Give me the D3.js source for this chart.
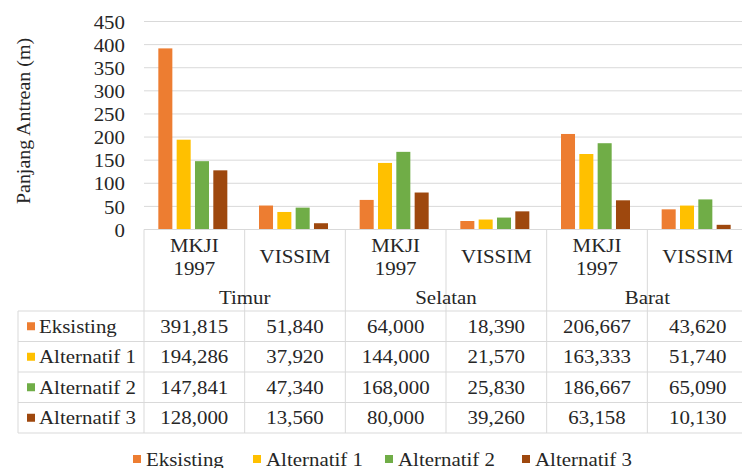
<!DOCTYPE html>
<html>
<head>
<meta charset="utf-8">
<script src="https://cdn.jsdelivr.net/npm/d3@7/dist/d3.min.js"></script>
<style>
  html, body { margin: 0; padding: 0; background: #fff; }
  svg { display: block; }
</style>
</head>
<body>
<svg id="chart" width="742" height="468"></svg>
<script>
// Queue length per approach (m), by method and scenario
const groups = ["Timur", "Selatan", "Barat"];
const methods = ["MKJI 1997", "VISSIM"];
const seriesNames = ["Eksisting", "Alternatif 1", "Alternatif 2", "Alternatif 3"];
const eksisting   = [391.815, 51.840, 64.000, 18.390, 206.667, 43.620];
const alternatif1 = [194.286, 37.920, 144.000, 21.570, 163.333, 51.740];
const alternatif2 = [147.841, 47.340, 168.000, 25.830, 186.667, 65.090];
const alternatif3 = [128.000, 13.560, 80.000, 39.260, 63.158, 10.130];
const yTicks = [0, 50, 100, 150, 200, 250, 300, 350, 400, 450];
const colors = ["#ED7D31", "#FFC000", "#70AD47", "#9E480E"];

const seriesValues = [eksisting, alternatif1, alternatif2, alternatif3];
const columns = [];
groups.forEach(g => methods.forEach(m => columns.push(g + "|" + m)));

const FONT = '"Liberation Serif"';
const TEXT_COLOR = "#262626";

const svg = d3.select("#chart");
const fs = 19;          // base font size
const sx = 1.1;         // horizontal glyph stretch

const plotLeft = 144, plotRight = 748;
const y0 = 229.5, yTop = 21.5;
const tableTop = 311, rowH = 30.5, tableLeft = 18;
const tableBottom = tableTop + rowH * 4;
const gridColor = "#d9d9d9";

const x = d3.scaleBand().domain(columns).range([plotLeft, plotRight]);
const y = d3.scaleLinear().domain([0, 450]).range([y0, yTop]);
const inner = d3.scaleBand().domain(seriesNames).paddingInner(0.235);

function styleText(sel) {
  return sel.style("font-family", FONT)
    .style("font-size", fs + "px")
    .attr("fill", TEXT_COLOR)
    .attr("dominant-baseline", "central");
}

function label(g, txt, px, py, anchor) {
  return styleText(g.append("text")
    .attr("transform", `translate(${px},${py}) scale(${sx},1)`)
    .attr("text-anchor", anchor || "middle")
    .text(txt));
}

// Horizontal gridlines
svg.append("g").selectAll("line").data(yTicks.slice(1)).join("line")
  .attr("x1", plotLeft).attr("x2", plotRight)
  .attr("y1", d => y(d)).attr("y2", d => y(d))
  .attr("stroke", gridColor).attr("stroke-width", 1);

// Y axis tick labels
const yAxis = svg.append("g").attr("transform", `translate(125,0)`)
  .call(d3.axisLeft(y).tickValues(yTicks).tickSize(0).tickPadding(0));
yAxis.attr("font-family", null).attr("font-size", null);
yAxis.select(".domain").remove();
yAxis.selectAll(".tick text").each(function() {
  const t = d3.select(this);
  t.attr("x", null).attr("dy", null)
   .attr("transform", `scale(${sx},1)`)
   .attr("text-anchor", "end");
  styleText(t);
});

// Y axis title
styleText(svg.append("text")
  .attr("transform", `translate(24,121) rotate(-90) scale(1.05,1)`)
  .attr("text-anchor", "middle")
  .text("Panjang Antrean (m)"));

// Bars
const barG = svg.append("g");
columns.forEach((col, ci) => {
  const cx = x(col) + x.bandwidth() / 2 - 1.5;
  inner.range([cx - 34.5, cx + 34.5]);
  seriesNames.forEach((s, si) => {
    const v = seriesValues[si][ci];
    barG.append("rect")
      .attr("x", inner(s))
      .attr("width", inner.bandwidth())
      .attr("y", y(v))
      .attr("height", y0 - y(v))
      .attr("fill", colors[si]);
  });
});

// Data table: lines
const lines = svg.append("g").attr("stroke", gridColor).attr("stroke-width", 1);
lines.append("line").attr("x1", plotLeft).attr("x2", plotRight).attr("y1", y0).attr("y2", y0);
for (let r = 0; r <= 4; r++) {
  const yy = tableTop + r * rowH;
  lines.append("line").attr("x1", tableLeft).attr("x2", plotRight).attr("y1", yy).attr("y2", yy);
}
lines.append("line").attr("x1", tableLeft).attr("x2", tableLeft).attr("y1", tableTop).attr("y2", tableBottom);
columns.forEach(col => {
  lines.append("line").attr("x1", x(col)).attr("x2", x(col)).attr("y1", y0).attr("y2", tableBottom);
});

// Category labels (two levels)
const catG = svg.append("g");
columns.forEach(col => {
  const m = col.split("|")[1];
  const cx = x(col) + x.bandwidth() / 2;
  if (m === "MKJI 1997") {
    label(catG, "MKJI", cx, 245);
    label(catG, "1997", cx, 268);
  } else {
    label(catG, m, cx, 256);
  }
});
groups.forEach(g => {
  const a = x(g + "|" + methods[0]);
  const b = x(g + "|" + methods[1]) + x.bandwidth();
  label(catG, g, (a + b) / 2, 297);
});

// Data table: rows
const fmt = v => d3.format(".3f")(v).replace(".", ",");
const rowG = svg.append("g");
seriesNames.forEach((s, si) => {
  const cy = tableTop + rowH * (si + 0.5);
  rowG.append("rect").attr("x", 27).attr("y", cy - 4).attr("width", 8).attr("height", 8).attr("fill", colors[si]);
  label(rowG, s, 39, cy, "start");
  columns.forEach((col, ci) => {
    label(rowG, fmt(seriesValues[si][ci]), x(col) + x.bandwidth() / 2, cy);
  });
});

// Legend
const legendX = [133, 253, 385, 522];
const legG = svg.append("g");
seriesNames.forEach((s, si) => {
  legG.append("rect").attr("x", legendX[si]).attr("y", 455).attr("width", 8).attr("height", 8).attr("fill", colors[si]);
  label(legG, s, legendX[si] + 13, 459, "start");
});
</script>
</body>
</html>
